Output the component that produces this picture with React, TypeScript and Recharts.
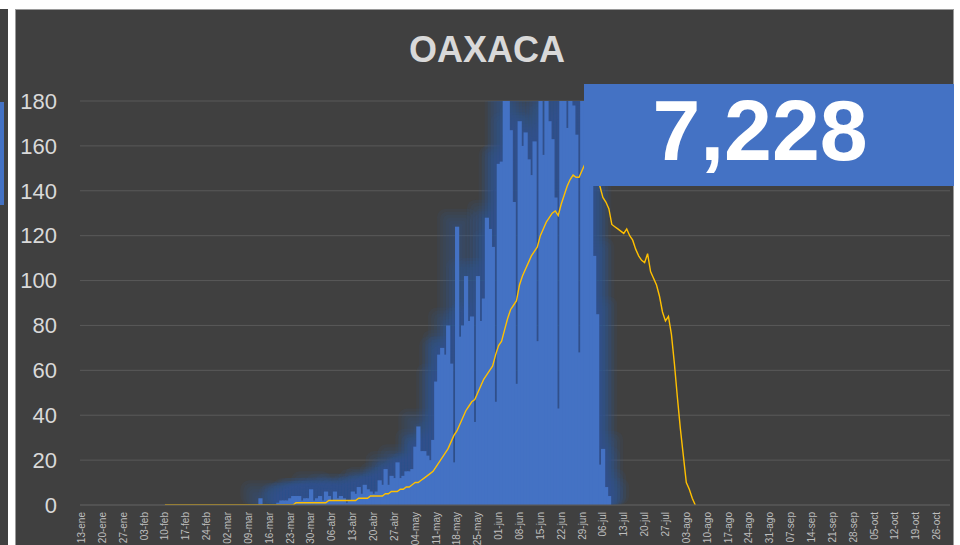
import { ComposedChart, Bar, Line, XAxis, YAxis, CartesianGrid } from 'recharts';

// 2020 daily axis: 13-ene .. 30-oct
const monthNames = ['ene', 'feb', 'mar', 'abr', 'may', 'jun', 'jul', 'ago', 'sep', 'oct'];
const monthLengths = [31, 29, 31, 30, 31, 30, 31, 31, 30, 31];
const firstDay = 13;
const lastDay = 30;

// daily confirmed cases, index 0 = 13-ene
const cases = [
  0, 0, 0, 0, 0, 0, 0, 0, 0, 0,
  0, 0, 0, 0, 0, 0, 0, 0, 0, 0,
  0, 0, 0, 0, 0, 0, 0, 0, 0, 0,
  0, 0, 0, 0, 0, 0, 0, 0, 0, 0,
  0, 0, 0, 0, 0, 0, 0, 0, 0, 0,
  0, 0, 0, 0, 0, 0, 0, 0, 0, 0,
  3, 0, 0, 0, 0, 0, 1, 2, 2, 2,
  3, 4, 4, 4, 2, 3, 3, 7, 2, 3,
  4, 2, 6, 4, 2, 6, 3, 4, 3, 1,
  2, 6, 5, 8, 5, 9, 7, 6, 5, 6,
  11, 9, 16, 9, 13, 12, 19, 12, 13, 15,
  15, 16, 26, 35, 24, 24, 22, 20, 29, 55,
  67, 70, 67, 80, 63, 19, 124, 75, 80, 102,
  82, 84, 37, 102, 82, 92, 128, 123, 115, 46,
  152, 153, 182, 190, 167, 135, 54, 171, 160, 166,
  154, 147, 162, 73, 190, 156, 190, 171, 163, 137,
  43, 190, 190, 168, 190, 178, 165, 68, 190, 185,
  170, 150, 111, 85, 18, 25, 8, 4,
];

// moving average line, starts at 10-feb (index 28)
const avgStart = 28;
const average = [
  0, 0, 0, 0, 0, 0, 0, 0, 0, 0,
  0, 0, 0, 0, 0, 0, 0, 0, 0, 0,
  0, 0, 0, 0, 0, 0, 0, 0, 0, 0,
  0, 0, 0, 0, 0, 0, 0, 0, 0, 0,
  0, 0, 0, 0, 1, 1, 1, 1, 1, 1,
  1, 1, 1, 1, 1, 2, 2, 2, 2, 2,
  2, 2, 2, 2, 2, 3, 3, 3, 3, 4,
  4, 4, 4, 4, 5, 5, 6, 6, 6, 7,
  7, 8, 8, 9, 10, 10, 11, 12, 13, 14,
  15, 17, 19, 21, 23, 25, 28, 31, 33, 36,
  39, 42, 44, 46, 47, 50, 53, 56, 58, 60,
  62, 67, 71, 73, 78, 83, 87, 89, 91, 98,
  102, 105, 108, 111, 113, 115, 120, 123, 126, 128,
  130, 131, 129, 134, 138, 142, 145, 147, 146, 146,
  149, 152, 154, 155, 152, 147, 142, 137, 135, 132,
  125, 124, 123, 122, 121, 123, 120, 118, 114, 111,
  109, 108, 112, 104, 101, 98, 93, 86, 82, 84,
  76, 63, 48, 34, 22, 10, 7, 3, 0,
];

const yTicks = [0, 20, 40, 60, 80, 100, 120, 140, 160, 180];
const totalCases = '7,228';
const title = 'OAXACA';

function buildDates() {
  const out: string[] = [];
  for (let m = 0; m < monthNames.length; m++) {
    const from = m === 0 ? firstDay : 1;
    const to = m === monthNames.length - 1 ? lastDay : monthLengths[m];
    for (let d = from; d <= to; d++) {
      out.push(`${String(d).padStart(2, '0')}-${monthNames[m]}`);
    }
  }
  return out;
}

const dates = buildDates();
const data = dates.map((date, i) => ({
  date,
  casos: i < cases.length ? cases[i] : null,
  promedio: i >= avgStart && i - avgStart < average.length ? average[i - avgStart] : null,
}));

const DateTick = ({ x, y, payload }: any) => (
  <text
    x={x}
    y={y}
    transform={`rotate(-90, ${x}, ${y})`}
    textAnchor="end"
    dominantBaseline="central"
    fill="#bfbfbf"
    fontSize={10}
  >
    {payload.value}
  </text>
);

// recharts rounds bar width down, so widen each bar to fill its day slot
const DayBar = ({ x, y, width, height, fill }: any) => {
  if (!height || height <= 0) return null;
  return <rect x={x - 0.4} y={y} width={width + 1.2} height={height} fill={fill} />;
};

// soft blue halo behind the bars: stacked translucent rects, wider each step
const glowSteps = [3, 6, 9, 12, 15, 18];
const GlowBar = ({ x, y, width, height, fill }: any) => {
  if (!height || height <= 0) return null;
  return (
    <g>
      {glowSteps.map((p) => (
        <rect
          key={p}
          x={x - 0.4 - p}
          y={y - p}
          width={width + 1.2 + p * 2}
          height={height + p}
          rx={p / 2}
          fill={fill}
          fillOpacity={0.1}
        />
      ))}
    </g>
  );
};

export default function App() {
  return (
    <div
      style={{
        position: 'relative',
        width: 960,
        height: 545,
        background: '#ffffff',
        overflow: 'hidden',
        fontFamily: '"Liberation Sans", Arial, sans-serif',
      }}
    >
      <style>{`body { margin: 0; }`}</style>

      {/* neighbouring slide edge */}
      <div style={{ position: 'absolute', left: 0, top: 9, width: 8, height: 536, background: '#404040' }} />
      <div style={{ position: 'absolute', left: 0, top: 102, width: 4, height: 103, background: '#4472C4' }} />

      <div
        style={{
          position: 'absolute',
          left: 15,
          top: 9,
          width: 939,
          height: 536,
          background: '#404040',
          borderLeft: '1px solid #9a9a9a',
          borderTop: '1px solid #9a9a9a',
          borderRight: '1px solid #9a9a9a',
          boxSizing: 'border-box',
        }}
      />

      <div style={{ position: 'absolute', left: 15, top: 9 }}>
        <ComposedChart
          width={939}
          height={536}
          data={data}
          barCategoryGap={0}
          margin={{ top: 92, right: 4, bottom: 0, left: 0 }}
        >
          <CartesianGrid vertical={false} stroke="#595959" />
          <XAxis xAxisId="glow" dataKey="date" hide />
          <XAxis
            dataKey="date"
            interval={6}
            height={40}
            tickLine={false}
            tickSize={0}
            tickMargin={7}
            axisLine={{ stroke: '#595959' }}
            tick={<DateTick />}
          />
          <YAxis
            domain={[0, 180]}
            ticks={yTicks}
            allowDataOverflow
            width={65}
            axisLine={false}
            tickLine={false}
            tickSize={0}
            tickMargin={23}
            tick={{ fill: '#d9d9d9', fontSize: 22 }}
          />
          <Bar
            xAxisId="glow"
            dataKey="casos"
            fill="#2F5597"
            shape={<GlowBar />}
            isAnimationActive={false}
          />
          <Bar
            dataKey="casos"
            name="Casos"
            fill="#4472C4"
            shape={<DayBar />}
            isAnimationActive={false}
          />
          <Line
            dataKey="promedio"
            name="Promedio"
            type="linear"
            stroke="#FFC000"
            strokeWidth={1.4}
            dot={false}
            isAnimationActive={false}
          />
        </ComposedChart>
      </div>

      <div
        style={{
          position: 'absolute',
          left: 0,
          top: 29,
          width: 974,
          textAlign: 'center',
          color: '#d9d9d9',
          fontWeight: 'bold',
          fontSize: 36,
          lineHeight: '42px',
        }}
      >
        {title}
      </div>

      <div style={{ position: 'absolute', left: 584, top: 84, width: 370, height: 102, background: '#4472C4' }} />
      <div
        style={{
          position: 'absolute',
          left: 584,
          top: 84,
          width: 352,
          textAlign: 'center',
          color: '#ffffff',
          fontWeight: 'bold',
          fontSize: 86,
          lineHeight: '92px',
        }}
      >
        {totalCases}
      </div>
    </div>
  );
}
